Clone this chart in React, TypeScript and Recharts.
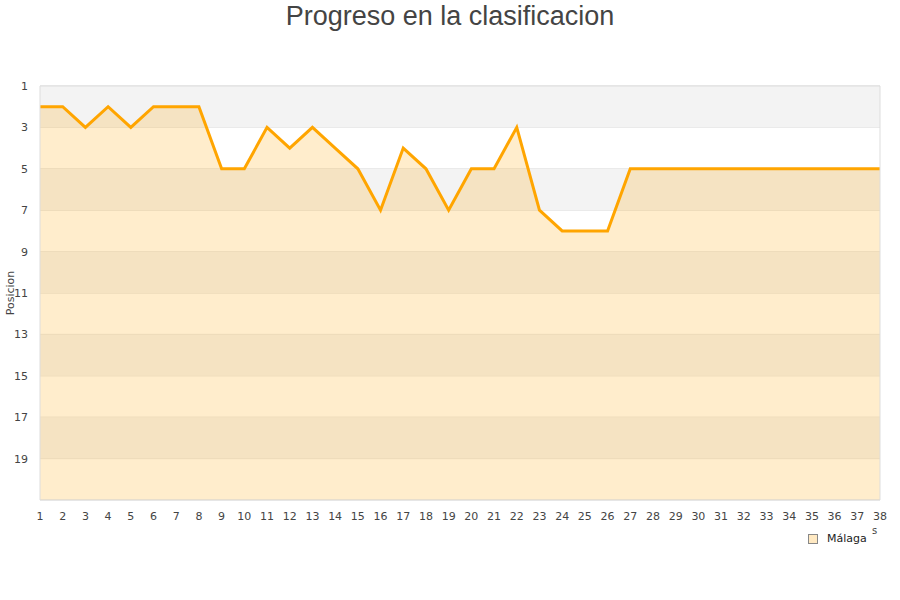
import React from 'react';
import { AreaChart, Area, XAxis, YAxis, CartesianGrid, ReferenceArea } from 'recharts';

const jornadas = Array.from({ length: 38 }, (_, i) => i + 1);
const posiciones = [2, 2, 3, 2, 3, 2, 2, 2, 5, 5, 3, 4, 3, 4, 5, 7, 4, 5, 7, 5, 5, 3, 7, 8, 8, 8, 5, 5, 5, 5, 5, 5, 5, 5, 5, 5, 5, 5];
const yTicks = [1, 3, 5, 7, 9, 11, 13, 15, 17, 19];
const grayBands = [[1, 3], [5, 7], [9, 11], [13, 15], [17, 19]];
const seriesName = 'Málaga';

const data = jornadas.map((j, i) => ({ jornada: j, pos: posiciones[i] }));

const font = 'DejaVu Sans, Verdana, sans-serif';

export default function App() {
  return (
    <div style={{ position: 'absolute', left: 0, top: 0, width: 900, height: 600, background: '#fff' }}>
      <div style={{ position: 'absolute', top: 0, left: 0, width: 900, textAlign: 'center', fontFamily: 'Liberation Sans, Arial, sans-serif', fontSize: 27, color: '#444', lineHeight: '32px' }}>
        Progreso en la clasificacion
      </div>
      <AreaChart width={900} height={600} data={data} margin={{ top: 86, right: 20, bottom: 70, left: 10 }}>
        {grayBands.map(([a, b]) => (
          <ReferenceArea key={a} x1={1} x2={38} y1={a} y2={b} fill="#f3f3f3" fillOpacity={1} stroke="none" ifOverflow="extendDomain" />
        ))}
        <CartesianGrid vertical={false} stroke="#dddddd" strokeDasharray="" />
        <XAxis dataKey="jornada" type="category" ticks={jornadas} interval={0} axisLine={false} tickLine={false}
          tick={{ fontSize: 11, fill: '#444', fontFamily: font }} height={30} tickMargin={6} />
        <YAxis type="number" reversed domain={[1, 21]} ticks={yTicks} interval={0} axisLine={false} tickLine={false}
          tick={{ fontSize: 11, fill: '#444', fontFamily: font }} width={30} tickMargin={6} />
        <Area type="linear" dataKey="pos" name={seriesName} stroke="#ffa500" strokeWidth={3} fill="#ffa500" fillOpacity={0.2}
          baseValue={21} isAnimationActive={false} dot={false} activeDot={false} />
        <ReferenceArea x1={1} x2={38} y1={1} y2={21} fill="none" stroke="#dddddd" strokeWidth={1} />
      </AreaChart>
      <div style={{ position: 'absolute', left: 11, top: 293, transform: 'translate(-50%, -50%) rotate(-90deg)', fontFamily: font, fontSize: 11, color: '#444', whiteSpace: 'nowrap', lineHeight: '12px' }}>
        Posicion
      </div>
      <div style={{ position: 'absolute', left: 872, top: 525, fontFamily: font, fontSize: 10, color: '#444' }}>s</div>
      <div style={{ position: 'absolute', left: 808, top: 532, display: 'flex', alignItems: 'center', fontFamily: font, fontSize: 11, color: '#222', lineHeight: '14px' }}>
        <span style={{ display: 'inline-block', width: 8, height: 8, background: '#ffe9c2', border: '1px solid #888', marginRight: 9 }} />
        <span>{seriesName}</span>
      </div>
    </div>
  );
}
